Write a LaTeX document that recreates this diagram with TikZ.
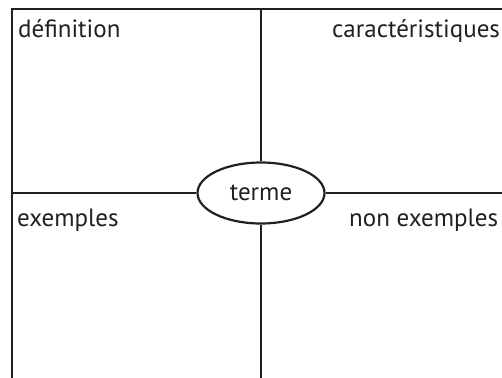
\documentclass[tikz,border=0pt]{standalone}
\usepackage{fontspec}
\setmainfont{PT Sans}
\usetikzlibrary{shapes.geometric}
\definecolor{ink}{HTML}{231F20}
\begin{document}
\begin{tikzpicture}[x=1pt,y=1pt,
  frame/.style={draw=ink,line width=2.2pt},
  lbl/.style={inner sep=0pt,text=ink,font=\fontsize{25}{25}\selectfont}]
\useasboundingbox (0,0) rectangle (502,-377);
\clip (0,0) rectangle (502,-377);
\node[ellipse,draw=ink,line width=2.2pt,minimum width=127pt,minimum height=61pt,inner sep=0pt,
  font=\fontsize{25}{25}\selectfont,text=ink] (terme) at (261,-193) {terme};
\coordinate (tl) at (12,-9);
\coordinate (tr) at (505,-9);
\coordinate (bl) at (12,-380);
\coordinate (tm) at (261,-9);
\coordinate (bm) at (261,-380);
\coordinate (ml) at (12,-193);
\coordinate (mr) at (505,-193);
\draw[frame] (tr) -- (tl) -- (bl);
\draw[frame] (tm) -- (terme.north);
\draw[frame] (terme.south) -- (bm);
\draw[frame] (ml) -- (terme.west);
\draw[frame] (terme.east) -- (mr);
\node[lbl,anchor=base west] (def) at (18,-38) {définition};
\node[lbl,anchor=base west] (car) at (332,-38) {caractéristiques};
\node[lbl,anchor=base west] (ex) at (17,-226) {exemples};
\node[lbl,anchor=base west] (nex) at (349,-226) {non exemples};
\end{tikzpicture}
\end{document}
